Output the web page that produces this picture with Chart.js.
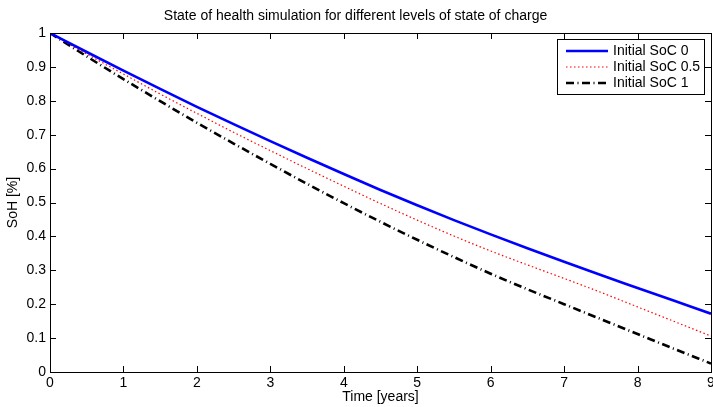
<!DOCTYPE html>
<html>
<head>
<meta charset="utf-8">
<title>State of health simulation</title>
<script src="https://cdn.jsdelivr.net/npm/chart.js@4.4.1/dist/chart.umd.min.js"></script>
<style>
  html, body { margin: 0; padding: 0; background: #ffffff; }
  #wrap { width: 713px; height: 407px; }
</style>
</head>
<body>
<div id="wrap"><canvas id="sohChart" width="713" height="407"></canvas></div>
<script>
// Time axis (years) and SoH values
var years = [0, 0.5, 1, 1.5, 2, 2.5, 3, 3.5, 4, 4.5, 5, 5.5, 6, 6.5, 7, 7.5, 8, 8.5, 9];
var sohSoc0 = [1, 0.944, 0.889, 0.835, 0.782, 0.731, 0.681, 0.632, 0.584, 0.537, 0.492, 0.448, 0.406, 0.365, 0.325, 0.286, 0.248, 0.21, 0.172];
var sohSoc05 = [1, 0.938, 0.879, 0.82, 0.763, 0.707, 0.653, 0.6, 0.548, 0.497, 0.448, 0.401, 0.357, 0.316, 0.276, 0.235, 0.192, 0.149, 0.106];
var sohSoc1 = [1, 0.931, 0.864, 0.799, 0.735, 0.674, 0.614, 0.555, 0.498, 0.443, 0.39, 0.339, 0.29, 0.244, 0.2, 0.156, 0.112, 0.068, 0.025];

var seriesNames = ["Initial SoC 0", "Initial SoC 0.5", "Initial SoC 1"];

var xTicks = [0, 1, 2, 3, 4, 5, 6, 7, 8, 9];
var xTickLabels = ["0", "1", "2", "3", "4", "5", "6", "7", "8", "9"];
var yTicks = [0, 0.1, 0.2, 0.3, 0.4, 0.5, 0.6, 0.7, 0.8, 0.9, 1];
var yTickLabels = ["0", "0.1", "0.2", "0.3", "0.4", "0.5", "0.6", "0.7", "0.8", "0.9", "1"];

var FONT = "'Liberation Sans', Arial, Helvetica, sans-serif";

function toPoints(values) {
    return years.map(function(t, i) { return { x: t, y: values[i] }; });
}

// MATLAB-like frame: box, inward ticks on all four sides, legend inside top right
var matlabFrame = {
    id: "matlabFrame",
    afterDatasetsDraw: function(chart) {
        var ctx = chart.ctx;
        var area = chart.chartArea;
        var xs = chart.scales.x;
        var ys = chart.scales.y;
        var tick = 6;

        ctx.save();
        ctx.strokeStyle = "#000000";
        ctx.lineWidth = 1;
        ctx.setLineDash([]);
        ctx.beginPath();
        xTicks.forEach(function(v) {
            var px = Math.round(xs.getPixelForValue(v)) + 0.5;
            ctx.moveTo(px, area.bottom);
            ctx.lineTo(px, area.bottom - tick);
            ctx.moveTo(px, area.top);
            ctx.lineTo(px, area.top + tick);
        });
        yTicks.forEach(function(v) {
            var py = Math.round(ys.getPixelForValue(v)) + 0.5;
            ctx.moveTo(area.left, py);
            ctx.lineTo(area.left + tick, py);
            ctx.moveTo(area.right, py);
            ctx.lineTo(area.right - tick, py);
        });
        ctx.stroke();
        ctx.strokeRect(Math.round(area.left) + 0.5, Math.round(area.top) + 0.5,
                       Math.round(area.right - area.left), Math.round(area.bottom - area.top));

        // legend box
        var bx = 557.5, by = 39.5, bw = 147, bh = 55;
        ctx.fillStyle = "#ffffff";
        ctx.fillRect(bx, by, bw, bh);
        ctx.strokeRect(bx, by, bw, bh);
        ctx.font = "14px " + FONT;
        ctx.textBaseline = "middle";
        ctx.textAlign = "left";
        chart.data.datasets.forEach(function(ds, i) {
            var cy = 51 + i * 16;
            ctx.strokeStyle = ds.borderColor;
            ctx.lineWidth = ds.borderWidth;
            ctx.setLineDash(ds.borderDash || []);
            ctx.beginPath();
            ctx.moveTo(566, cy);
            ctx.lineTo(608, cy);
            ctx.stroke();
            ctx.fillStyle = "#000000";
            ctx.fillText(ds.label, 613, cy);
        });
        ctx.restore();
    }
};

var sohChart = new Chart(document.getElementById("sohChart").getContext("2d"), {
    type: "line",
    data: {
        datasets: [
            {
                label: seriesNames[0],
                data: toPoints(sohSoc0),
                borderColor: "#0000ff",
                borderWidth: 2.6,
                pointRadius: 0,
                cubicInterpolationMode: "monotone",
                fill: false
            },
            {
                label: seriesNames[1],
                data: toPoints(sohSoc05),
                borderColor: "#ff0000",
                borderWidth: 1.2,
                borderDash: [1.5, 2.5],
                pointRadius: 0,
                cubicInterpolationMode: "monotone",
                fill: false
            },
            {
                label: seriesNames[2],
                data: toPoints(sohSoc1),
                borderColor: "#000000",
                borderWidth: 2.6,
                borderDash: [8, 3.5, 1, 3.5],
                pointRadius: 0,
                cubicInterpolationMode: "monotone",
                fill: false
            }
        ]
    },
    options: {
        responsive: false,
        animation: false,
        layout: { padding: { left: 0, right: 2, top: 0, bottom: 0 } },
        plugins: {
            legend: { display: false },
            tooltip: { enabled: false },
            title: {
                display: true,
                text: "State of health simulation for different levels of state of charge",
                color: "#000000",
                font: { family: FONT, size: 14, weight: "normal", lineHeight: 1.2 },
                padding: { top: 8, bottom: 8.2 }
            }
        },
        scales: {
            x: {
                type: "linear",
                min: 0,
                max: 9,
                grid: { display: false, drawTicks: false },
                border: { display: false },
                afterBuildTicks: function(scale) {
                    scale.ticks = xTicks.map(function(v) { return { value: v }; });
                },
                afterFit: function(scale) {
                    scale.height = 35;
                    scale.paddingLeft = 0;
                    scale.paddingRight = 0;
                },
                ticks: {
                    color: "#000000",
                    padding: 3,
                    maxRotation: 0,
                    autoSkip: false,
                    font: { family: FONT, size: 14 },
                    callback: function(value, index) { return xTickLabels[index]; }
                },
                title: {
                    display: true,
                    text: "Time [years]",
                    color: "#000000",
                    font: { family: FONT, size: 14, lineHeight: 1.2 },
                    padding: { top: 0, bottom: 1 }
                }
            },
            y: {
                min: 0,
                max: 1,
                grid: { display: false, drawTicks: false },
                border: { display: false },
                afterBuildTicks: function(scale) {
                    scale.ticks = yTicks.map(function(v) { return { value: v }; });
                },
                afterFit: function(scale) {
                    scale.width = 50;
                    scale.paddingTop = 0;
                    scale.paddingBottom = 0;
                },
                ticks: {
                    color: "#000000",
                    padding: 4,
                    autoSkip: false,
                    font: { family: FONT, size: 14 },
                    callback: function(value, index) { return yTickLabels[index]; }
                },
                title: {
                    display: true,
                    text: "SoH [%]",
                    color: "#000000",
                    font: { family: FONT, size: 14, lineHeight: 1.2 },
                    padding: { top: 5, bottom: 0 }
                }
            }
        }
    },
    plugins: [matlabFrame]
});
</script>
</body>
</html>
